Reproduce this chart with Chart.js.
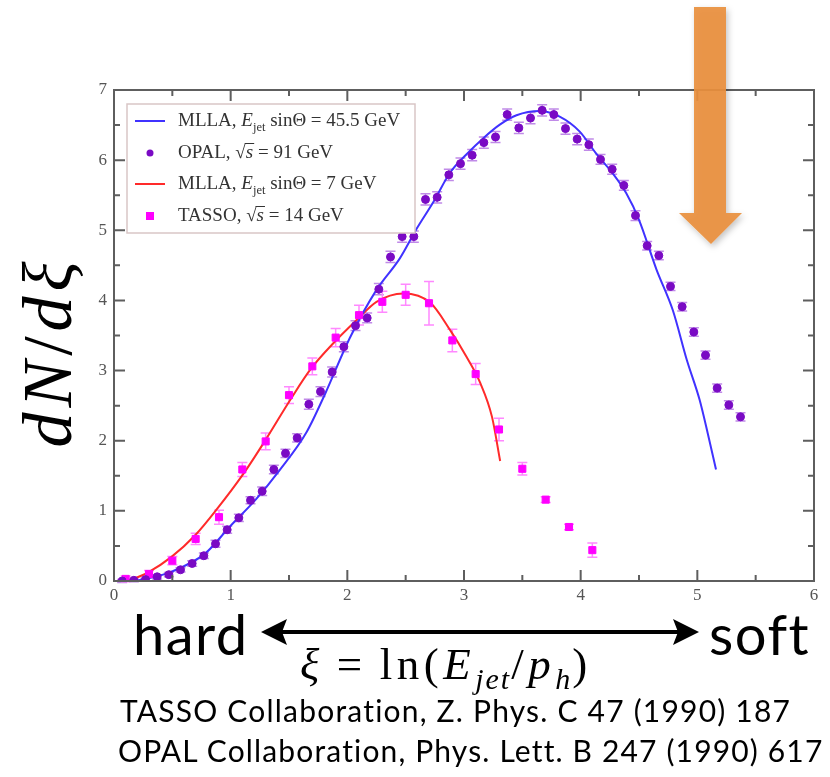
<!DOCTYPE html>
<html>
<head>
<meta charset="utf-8">
<script src="https://cdn.jsdelivr.net/npm/chart.js@4.4.1/dist/chart.umd.min.js"></script>
<style>
html, body { margin: 0; padding: 0; background: #fff; }
#wrap { position: relative; width: 830px; height: 777px; overflow: hidden; }
#myChart { position: absolute; left: 0; top: 0; }
.lbl { position: absolute; white-space: nowrap; color: #000; line-height: 1; }
.sans { font-family: Lato, "Open Sans", sans-serif; }
.serif { font-family: "Liberation Serif", "DejaVu Serif", serif; }
#ylab { left: 48px; top: 352px; font-size: 70px; transform: translate(-50%, -50%) rotate(-90deg); letter-spacing: 5px; }
#hard { left: 133px; top: 606px; font-size: 56px; letter-spacing: 1.5px; }
#soft { left: 709px; top: 606px; font-size: 56px; letter-spacing: 1.5px; }
#xi { left: 300px; top: 642px; font-size: 45px; letter-spacing: 4.5px; }
#xi .eq { margin: 0 13px; }
#xi sub { font-size: 30px; vertical-align: -10px; letter-spacing: 2px; }
#ref1 { left: 120px; top: 695px; font-size: 30px; letter-spacing: 1.2px; }
#ref2 { left: 118px; top: 735px; font-size: 30px; letter-spacing: 1.15px; }
svg { position: absolute; left: 0; top: 0; }
</style>
</head>
<body>
<div id="wrap">
<canvas id="myChart" width="830" height="777"></canvas>
<svg width="830" height="777">
	<defs>
		<filter id="shadow" x="-30%" y="-10%" width="160%" height="130%">
			<feDropShadow dx="2" dy="3" stdDeviation="3" flood-color="#000" flood-opacity="0.25"/>
		</filter>
	</defs>
	<polygon points="694,7 726,7 726,213 742,213 711,244 679,213 694,213" fill="rgb(233,143,60)" fill-opacity="0.92" filter="url(#shadow)"/>
	<line x1="282" y1="632" x2="678" y2="632" stroke="#000" stroke-width="4"/>
	<polygon points="261,632 287,619 282,632 287,645" fill="#000"/>
	<polygon points="699,632 673,619 678,632 673,645" fill="#000"/>
</svg>
<div id="ylab" class="lbl serif"><i>dN</i>/<i>dξ</i></div>
<div id="hard" class="lbl sans">hard</div>
<div id="soft" class="lbl sans">soft</div>
<div id="xi" class="lbl serif"><i>ξ</i><span class="eq">=</span>ln(<i>E</i><sub><i>jet</i></sub>/<i>p</i><sub><i>h</i></sub>)</div>
<div id="ref1" class="lbl sans">TASSO Collaboration, Z. Phys. C 47 (1990) 187</div>
<div id="ref2" class="lbl sans">OPAL Collaboration, Phys. Lett. B 247 (1990) 617</div>
</div>
<script>
// OPAL data, sqrt(s) = 91 GeV
var opalX = [0.07, 0.17, 0.27, 0.37, 0.47, 0.57, 0.67, 0.77, 0.87, 0.97,
	1.07, 1.17, 1.27, 1.37, 1.47, 1.57, 1.67, 1.77, 1.87, 1.97,
	2.07, 2.17, 2.27, 2.37, 2.47, 2.57, 2.67, 2.77, 2.87, 2.97,
	3.07, 3.17, 3.27, 3.37, 3.47, 3.57, 3.67, 3.77, 3.87, 3.97,
	4.07, 4.17, 4.27, 4.37, 4.47, 4.57, 4.67, 4.77, 4.87, 4.97,
	5.07, 5.17, 5.27, 5.37];
var opalY = [0.00, 0.01, 0.02, 0.06, 0.09, 0.16, 0.25, 0.36, 0.53, 0.73,
	0.90, 1.15, 1.28, 1.59, 1.82, 2.04, 2.52, 2.70, 2.98, 3.34,
	3.64, 3.75, 4.16, 4.62, 4.91, 4.91, 5.44, 5.47, 5.79, 5.95,
	6.07, 6.25, 6.33, 6.65, 6.46, 6.60, 6.71, 6.65, 6.45, 6.30,
	6.22, 6.01, 5.87, 5.64, 5.21, 4.78, 4.64, 4.20, 3.91, 3.55,
	3.22, 2.75, 2.51, 2.34];
var opalErr = [0.02, 0.02, 0.02, 0.03, 0.03, 0.03, 0.04, 0.04, 0.05, 0.05,
	0.05, 0.05, 0.06, 0.06, 0.06, 0.06, 0.07, 0.07, 0.07, 0.07,
	0.07, 0.07, 0.08, 0.08, 0.08, 0.08, 0.08, 0.08, 0.08, 0.08,
	0.08, 0.08, 0.08, 0.08, 0.08, 0.08, 0.08, 0.08, 0.08, 0.08,
	0.08, 0.07, 0.07, 0.07, 0.07, 0.06, 0.06, 0.06, 0.06, 0.06,
	0.06, 0.06, 0.06, 0.06];

// TASSO data, sqrt(s) = 14 GeV
var tassoX = [0.1, 0.3, 0.5, 0.7, 0.9, 1.1, 1.3, 1.5, 1.7, 1.9, 2.1,
	2.3, 2.5, 2.7, 2.9, 3.1, 3.3, 3.5, 3.7, 3.9, 4.1];
var tassoY = [0.03, 0.10, 0.29, 0.60, 0.91, 1.59, 1.99, 2.65, 3.06, 3.47, 3.79,
	3.98, 4.08, 3.96, 3.43, 2.95, 2.16, 1.60, 1.16, 0.77, 0.44];
var tassoErr = [0.04, 0.05, 0.06, 0.08, 0.10, 0.10, 0.12, 0.12, 0.12, 0.13, 0.14,
	0.15, 0.15, 0.31, 0.16, 0.15, 0.16, 0.09, 0.04, 0.04, 0.10];

// MLLA curves
var mlla45X = [0.17, 0.30, 0.49, 0.78, 0.99, 1.22, 1.42, 1.65, 1.81, 2.02,
	2.25, 2.45, 2.59, 2.74, 2.88, 3.02, 3.17, 3.31, 3.45, 3.65,
	3.82, 3.99, 4.13, 4.28, 4.39, 4.50, 4.65, 4.79, 4.91, 5.02,
	5.09, 5.16];
var mlla45Y = [0.00, 0.04, 0.13, 0.39, 0.77, 1.17, 1.58, 2.12, 2.67, 3.46,
	4.15, 4.60, 5.01, 5.41, 5.82, 6.08, 6.32, 6.51, 6.64, 6.70,
	6.62, 6.41, 6.10, 5.80, 5.53, 5.15, 4.44, 3.86, 3.15, 2.58,
	2.10, 1.59];
var mlla7X = [0.12, 0.29, 0.49, 0.70, 0.88, 1.11, 1.31, 1.51, 1.69, 1.88,
	2.08, 2.25, 2.48, 2.71, 2.88, 3.02, 3.14, 3.24, 3.31];
var mlla7Y = [0.00, 0.12, 0.34, 0.66, 1.02, 1.53, 2.04, 2.58, 3.03, 3.39,
	3.72, 3.98, 4.10, 3.97, 3.58, 3.20, 2.82, 2.34, 1.71];

var xTicks = [0, 1, 2, 3, 4, 5, 6];
var yTicks = [0, 1, 2, 3, 4, 5, 6, 7];

var
	blue = "#4032ff",
	purple = "#7a0ac4",
	purpleBar = "#c08ae8",
	red = "#ff2a2a",
	magenta = "#ff00ff",
	magentaBar = "#ff88ff",
	axisGrey = "#5e5e5e";

function pts(xs, ys) {
	return xs.map(function(x, i) { return {x: x, y: ys[i]}; });
}

function drawRich(ctx, x, y, parts, size) {
	parts.forEach(function(p) {
		var s = p[1] || '';
		var fs = s === 'sub' ? size * 0.66 : size;
		ctx.font = (s === 'i' || s === 'ov' ? 'italic ' : '') + fs + 'px "Liberation Serif"';
		var dy = s === 'sub' ? size * 0.34 : 0;
		ctx.fillText(p[0], x, y + dy);
		var w = ctx.measureText(p[0]).width;
		if (s === 'ov') {
			ctx.beginPath();
			ctx.lineWidth = 1;
			ctx.moveTo(x - 1, y - size * 0.5);
			ctx.lineTo(x + w + 1, y - size * 0.5);
			ctx.stroke();
		}
		x += w;
	});
}

var framePlugin = {
	id: 'frame',
	beforeDatasetsDraw: function(chart) {
		var ctx = chart.ctx, xs = chart.scales.x, ys = chart.scales.y;
		function bars(xv, yv, ev, col) {
			ctx.save();
			ctx.strokeStyle = col;
			ctx.lineWidth = 1.5;
			xv.forEach(function(x, i) {
				var px = xs.getPixelForValue(x);
				var lo = ys.getPixelForValue(yv[i] - ev[i]);
				var hi = ys.getPixelForValue(yv[i] + ev[i]);
				ctx.beginPath();
				ctx.moveTo(px, lo); ctx.lineTo(px, hi);
				ctx.moveTo(px - 5, lo); ctx.lineTo(px + 5, lo);
				ctx.moveTo(px - 5, hi); ctx.lineTo(px + 5, hi);
				ctx.stroke();
			});
			ctx.restore();
		}
		bars(opalX, opalY, opalErr, purpleBar);
		bars(tassoX, tassoY, tassoErr, magentaBar);
	},
	afterDraw: function(chart) {
		var ctx = chart.ctx, a = chart.chartArea, xs = chart.scales.x, ys = chart.scales.y;
		ctx.save();
		ctx.strokeStyle = axisGrey;
		ctx.lineWidth = 2;
		ctx.strokeRect(a.left, a.top, a.right - a.left, a.bottom - a.top);
		ctx.beginPath();
		// inward ticks, all four sides
		for (var v = 0; v <= 6; v += 0.5) {
			var px = xs.getPixelForValue(v), len = (v % 1 === 0) ? 11 : 6;
			ctx.moveTo(px, a.bottom); ctx.lineTo(px, a.bottom - len);
			ctx.moveTo(px, a.top); ctx.lineTo(px, a.top + len);
		}
		for (var w = 0; w <= 7; w += 0.5) {
			var py = ys.getPixelForValue(w), ln = (w % 1 === 0) ? 11 : 6;
			ctx.moveTo(a.left, py); ctx.lineTo(a.left + ln, py);
			ctx.moveTo(a.right, py); ctx.lineTo(a.right - ln, py);
		}
		ctx.stroke();

		// legend
		var lx = 127, ly = 104, lw = 288, lh = 129;
		ctx.fillStyle = "#fff";
		ctx.fillRect(lx, ly, lw, lh);
		ctx.strokeStyle = "#d9c6c6";
		ctx.lineWidth = 1.5;
		ctx.strokeRect(lx, ly, lw, lh);
		var rows = [121, 153, 184, 216];
		ctx.lineWidth = 2;
		ctx.strokeStyle = blue;
		ctx.beginPath(); ctx.moveTo(135, rows[0]); ctx.lineTo(165, rows[0]); ctx.stroke();
		ctx.strokeStyle = red;
		ctx.beginPath(); ctx.moveTo(135, rows[2]); ctx.lineTo(165, rows[2]); ctx.stroke();
		ctx.fillStyle = purple;
		ctx.beginPath(); ctx.arc(150, rows[1], 3.5, 0, Math.PI * 2); ctx.fill();
		ctx.fillStyle = magenta;
		ctx.fillRect(146, rows[3] - 4, 8, 8);

		ctx.fillStyle = "#333";
		ctx.strokeStyle = "#333";
		ctx.textBaseline = "middle";
		ctx.textAlign = "left";
		var fs = 19;
		drawRich(ctx, 178, rows[0], [['MLLA, '], ['E', 'i'], ['jet', 'sub'], [' sin\u0398 = 45.5 GeV']], fs);
		drawRich(ctx, 178, rows[1], [['OPAL, \u221a'], ['s', 'ov'], [' = 91 GeV']], fs);
		drawRich(ctx, 178, rows[2], [['MLLA, '], ['E', 'i'], ['jet', 'sub'], [' sin\u0398 = 7 GeV']], fs);
		drawRich(ctx, 178, rows[3], [['TASSO, \u221a'], ['s', 'ov'], [' = 14 GeV']], fs);
		ctx.restore();
	}
};

var ctx = document.getElementById("myChart").getContext('2d');

var myChart = new Chart(ctx, {
	type: 'scatter',
	data: {
		datasets: [{
			label: 'MLLA 45.5',
			data: pts(mlla45X, mlla45Y),
			showLine: true,
			borderColor: blue,
			borderWidth: 2,
			pointRadius: 0,
			cubicInterpolationMode: 'monotone',
			order: 2
		}, {
			label: 'OPAL',
			data: pts(opalX, opalY),
			backgroundColor: purple,
			borderColor: purple,
			pointRadius: 4,
			pointStyle: 'circle',
			order: 1
		}, {
			label: 'MLLA 7',
			data: pts(mlla7X, mlla7Y),
			showLine: true,
			borderColor: red,
			borderWidth: 2,
			pointRadius: 0,
			cubicInterpolationMode: 'monotone',
			order: 2
		}, {
			label: 'TASSO',
			data: pts(tassoX, tassoY),
			backgroundColor: magenta,
			borderColor: magenta,
			pointRadius: 5,
			pointStyle: 'rect',
			order: 1
		}]
	},
	options: {
		responsive: false,
		animation: false,
		devicePixelRatio: 1,
		layout: { padding: { top: 90, right: 16, bottom: 0, left: 0 } },
		plugins: {
			legend: { display: false },
			tooltip: { enabled: false }
		},
		scales: {
			x: {
				type: 'linear',
				min: 0,
				max: 6,
				afterBuildTicks: function(s) { s.ticks = xTicks.map(function(v) { return {value: v}; }); },
				afterFit: function(s) { s.height = 196; },
				grid: { display: true, drawOnChartArea: false, drawTicks: false },
				border: { display: true, color: axisGrey, width: 2 },
				ticks: { color: "#555", padding: 4, font: { family: "Liberation Serif", size: 17 } }
			},
			y: {
				type: 'linear',
				min: 0,
				max: 7,
				afterBuildTicks: function(s) { s.ticks = yTicks.map(function(v) { return {value: v}; }); },
				afterFit: function(s) { s.width = 114; },
				grid: { display: true, drawOnChartArea: false, drawTicks: false },
				border: { display: true, color: axisGrey, width: 2 },
				ticks: { color: "#555", padding: 7, font: { family: "Liberation Serif", size: 17 } }
			}
		}
	},
	plugins: [framePlugin]
});
</script>
</body>
</html>
